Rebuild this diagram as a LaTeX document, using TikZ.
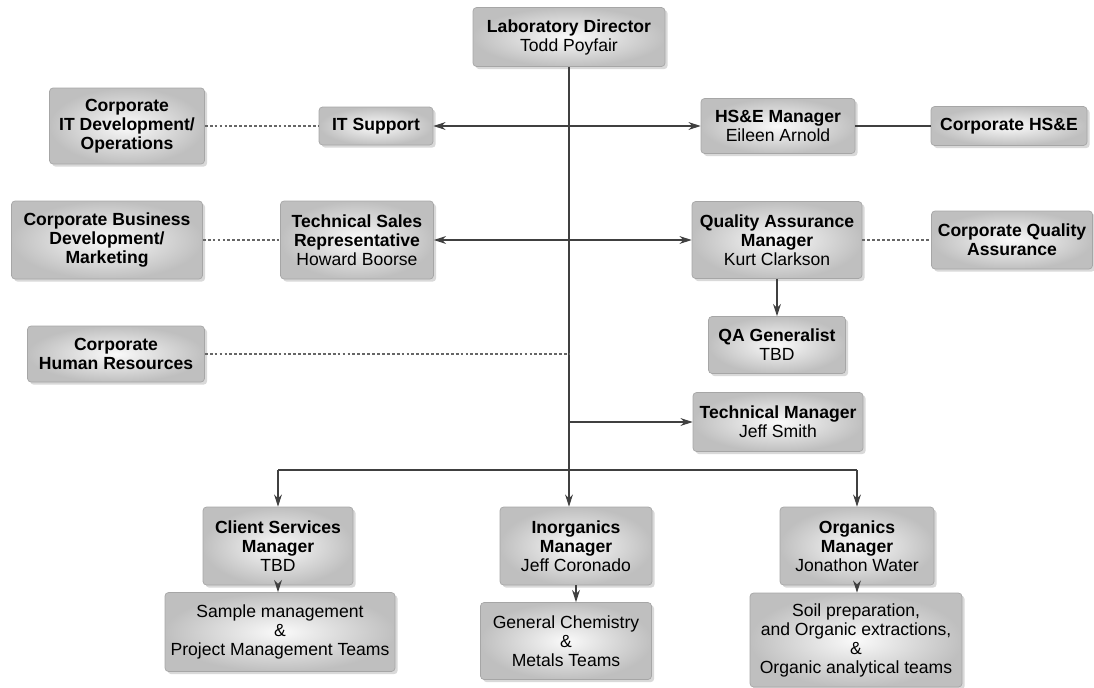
\documentclass[tikz,border=0pt]{standalone}
\usepackage{fontspec}
\setmainfont{Liberation Sans}
\usetikzlibrary{arrows.meta,shadows}

\tikzset{
  unit/.style={draw=gray!70, rounded corners=2pt, inner color=gray!4, outer color=gray!50,
    drop shadow={opacity=0.3, shadow xshift=1.5pt, shadow yshift=-1.5pt},
    align=center, inner sep=2pt, font=\fontsize{10}{10.8}\selectfont},
  bosslink/.style={line width=0.6pt, draw=black!75},
  dotline/.style={line width=0.6pt, draw=black!60, dash pattern=on 1.6pt off 1.2pt},
  >={Stealth[length=7pt,width=4.5pt]}
}

\begin{document}
\begin{tikzpicture}[x=0.02cm, y=-0.02cm]
			%%%%% START %%%%%
			\useasboundingbox (0,0) rectangle (1094,687);
			
			\node[unit, minimum width=3.84cm, minimum height=1.18cm] (ld) at (569, 37) {\textbf{Laboratory Director}\\Todd Poyfair};
			
			\node[unit, minimum width=3.10cm, minimum height=1.52cm] (corpit) at (127, 126) {\textbf{Corporate}\\\textbf{IT Development/}\\\textbf{Operations}};
			\node[unit, minimum width=2.28cm, minimum height=0.76cm] (its) at (376, 126) {\textbf{IT Support}};
			\node[unit, minimum width=3.08cm, minimum height=1.10cm] (hse) at (778, 126) {\textbf{HS\&E Manager}\\Eileen Arnold};
			\node[unit, minimum width=3.12cm, minimum height=0.78cm] (corphse) at (1009, 126) {\textbf{Corporate HS\&E}};
			
			\node[unit, minimum width=3.82cm, minimum height=1.56cm] (corpbd) at (107, 240) {\textbf{Corporate Business}\\\textbf{Development/}\\\textbf{Marketing}};
			\node[unit, minimum width=3.06cm, minimum height=1.56cm] (tsr) at (357, 240) {\textbf{Technical Sales}\\\textbf{Representative}\\Howard Boorse};
			\node[unit, minimum width=3.40cm, minimum height=1.54cm] (qam) at (777, 240) {\textbf{Quality Assurance}\\\textbf{Manager}\\Kurt Clarkson};
			\node[unit, minimum width=3.22cm, minimum height=1.16cm] (corpqa) at (1012, 240) {\textbf{Corporate Quality}\\\textbf{Assurance}};
			
			\node[unit, minimum width=3.54cm, minimum height=1.12cm] (corphr) at (116, 354) {\textbf{Corporate}\\\textbf{Human Resources}};
			\node[unit, minimum width=2.74cm, minimum height=1.14cm] (qag) at (777, 345) {\textbf{QA Generalist}\\TBD};
			\node[unit, minimum width=3.40cm, minimum height=1.18cm] (tm) at (778, 422) {\textbf{Technical Manager}\\Jeff Smith};
			
			\node[unit, minimum width=3.00cm, minimum height=1.56cm] (csm) at (278, 546) {\textbf{Client Services}\\\textbf{Manager}\\TBD};
			\node[unit, minimum width=3.04cm, minimum height=1.56cm] (im) at (576, 546) {\textbf{Inorganics}\\\textbf{Manager}\\Jeff Coronado};
			\node[unit, minimum width=3.08cm, minimum height=1.56cm] (om) at (857, 546) {\textbf{Organics}\\\textbf{Manager}\\Jonathon Water};
			
			\node[unit, minimum width=4.60cm, minimum height=1.58cm] (smt) at (280, 632) {Sample management\\\&\\Project Management Teams};
			\node[unit, minimum width=3.42cm, minimum height=1.54cm] (gct) at (566, 641) {General Chemistry\\\&\\Metals Teams};
			\node[unit, minimum width=4.24cm, minimum height=1.88cm] (soil) at (856, 640) {Soil preparation,\\and Organic extractions,\\\&\\Organic analytical teams};
			
			% trunk and bus
			\coordinate (bus) at (569, 470);
			\draw[bosslink, ->] (ld.south) -- (ld.south |- im.north);
			\draw[bosslink] (csm.north |- bus) -- (om.north |- bus);
			\draw[bosslink, ->] (csm.north |- bus) -- (csm.north);
			\draw[bosslink, ->] (om.north |- bus) -- (om.north);
			
			\draw[bosslink, <->] (its) -- (hse);
			\draw[bosslink, <->] (tsr) -- (qam);
			\draw[bosslink] (hse) -- (corphse);
			\draw[bosslink, ->] (qam) -- (qag);
			\draw[bosslink, ->] (tm.west -| ld.south) -- (tm.west);
			
			\draw[dotline] (corpit) -- (its);
			\draw[dotline] (corpbd) -- (tsr);
			\draw[dotline] (qam) -- (corpqa);
			\draw[dotline] (corphr.east) -- (corphr.east -| ld.south);
			
			\draw[bosslink, ->] (csm.south) -- (csm.south |- smt.north);
			\draw[bosslink, ->] (im.south) -- (im.south |- gct.north);
			\draw[bosslink, ->] (om.south) -- (om.south |- soil.north);
			
			%%%%% END %%%%%
		\end{tikzpicture}
\end{document}
